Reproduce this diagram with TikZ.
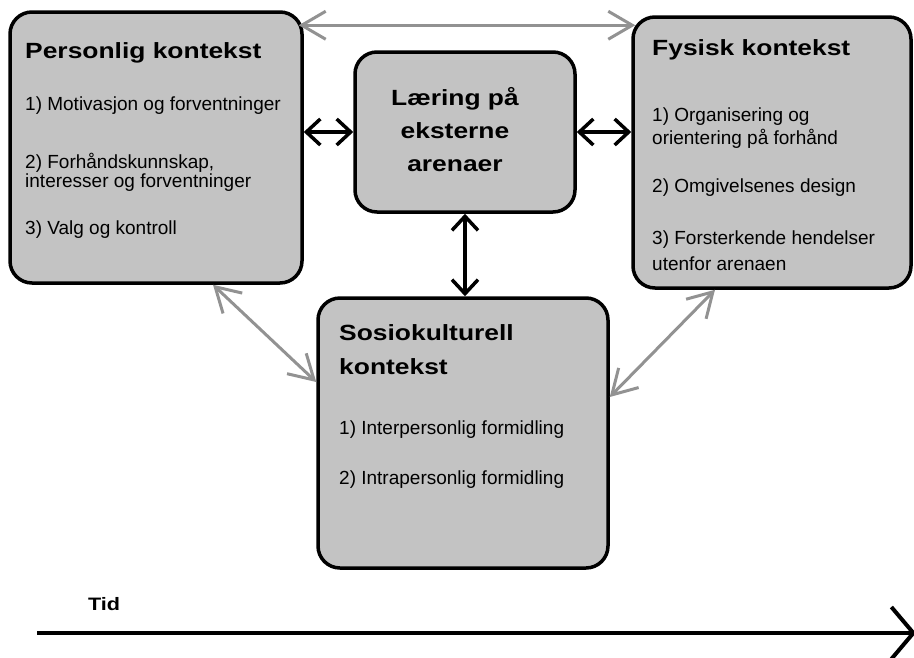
\documentclass[tikz,border=0pt]{standalone}
\usepackage{fontspec}
\setmainfont{Liberation Sans}
\newfontfamily\ttlfont{Liberation Sans}[FakeStretch=1.2]
\usetikzlibrary{positioning, arrows.meta}
\definecolor{boxgray}{RGB}{195, 195, 195}
\definecolor{linkgray}{RGB}{146, 146, 146}

\begin{document}
\begin{tikzpicture}[
        x=1pt, y=-1pt,
        ctx/.style={draw=black, line width=3.5pt, fill=boxgray, rounded corners=22pt, inner sep=0pt},
        ttl/.style={font=\ttlfont\bfseries\fontsize{22}{34}\selectfont, anchor=west, align=left, inner sep=0pt},
        itm/.style={font=\fontsize{19}{17.5}\selectfont, anchor=west, align=left, inner sep=0pt},
        blk/.style={line width=3.5pt, {Straight Barb[length=14pt,width=26pt]}-{Straight Barb[length=14pt,width=26pt]}},
        gry/.style={linkgray, line width=3pt, {Straight Barb[length=24pt,width=28pt]}-{Straight Barb[length=24pt,width=28pt]}}
    ]

    \useasboundingbox (0, 0) rectangle (914, 657);

    % === CONTEXT BOXES ===
    \node[ctx, minimum width=292pt, minimum height=271pt] (pers) at (156, 147.5) {};
    \node[ctx, minimum width=220pt, minimum height=160pt] (lear) at (465, 132) {};
    \node[ctx, minimum width=278pt, minimum height=271pt] (fys) at (772, 152.5) {};
    \node[ctx, minimum width=290pt, minimum height=270pt] (sos) at (463, 433) {};

    % Personlig kontekst
    \node[ttl] (persT) at (25, 53) {Personlig kontekst};
    \node[itm] (pers1) at (25, 106) {1) Motivasjon og forventninger};
    \node[itm] (pers2) at (25, 172) {2) Forhåndskunnskap,\\interesser og forventninger};
    \node[itm] (pers3) at (25, 230) {3) Valg og kontroll};

    % Learing (centre)
    \node[ttl, anchor=center, align=center, font=\ttlfont\bfseries\fontsize{22}{33}\selectfont] (learT) at (455, 130) {Læring på\\eksterne\\arenaer};

    % Fysisk kontekst
    \node[ttl] (fysT) at (652, 50) {Fysisk kontekst};
    \node[itm] (fys1) at (652, 128) {1) Organisering og\\[2.5pt]orientering på forhånd};
    \node[itm] (fys2) at (652, 188) {2) Omgivelsenes design};
    \node[itm] (fys3) at (652, 251) {3) Forsterkende hendelser\\[7pt]utenfor arenaen};

    % Sosiokulturell kontekst
    \node[ttl] (sosT) at (339, 350) {Sosiokulturell\\kontekst};
    \node[itm] (sos1) at (339, 430) {1) Interpersonlig formidling};
    \node[itm] (sos2) at (339, 480) {2) Intrapersonlig formidling};

    % === LINKS ===
    % black links to the centre box
    \draw[blk] (lear.west -| pers.east) -- (lear.west);
    \draw[blk] (lear.east) -- (lear.east -| fys.west);
    \draw[blk] (lear.south) -- (lear.south |- sos.north);

    % grey links between the contexts
    \draw[gry] ([xshift=-5pt, yshift=-15pt]pers.north east) -- ([xshift=4pt, yshift=-10pt]fys.north west);
    \draw[gry] ([xshift=57pt]pers.south) -- ([yshift=51pt]sos.west);
    \draw[gry] ([xshift=-57pt]fys.south) -- ([yshift=36pt]sos.east);

    % === TIME AXIS ===
    \node[font=\ttlfont\bfseries\fontsize{18}{20}\selectfont, inner sep=0pt] (tid) at (104, 604) {Tid};
    \coordinate (tidA) at (37, 633);
    \coordinate (tidB) at (916, 633);
    \draw[line width=4pt, -{Straight Barb[length=22pt,width=52pt]}] (tidA) -- (tidB);

\end{tikzpicture}
\end{document}
